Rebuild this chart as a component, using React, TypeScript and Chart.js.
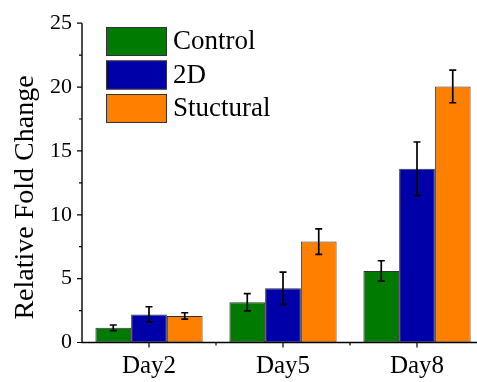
import React, { useEffect, useRef } from "react";
import { Chart, registerables } from "chart.js";

Chart.register(...registerables);

const categories = ["Day2", "Day5", "Day8"];
const seriesNames = ["Control", "2D", "Stuctural"];
const controlValues = [1.15, 3.15, 5.6];
const controlErrors = [0.22, 0.68, 0.8];
const twoDValues = [2.2, 4.25, 13.6];
const twoDErrors = [0.6, 1.26, 2.1];
const structuralValues = [2.08, 7.9, 20.05];
const structuralErrors = [0.25, 1.0, 1.28];
const yTicks = [0, 5, 10, 15, 20, 25];
const yMinorTicks = [2.5, 7.5, 12.5, 17.5, 22.5];
const yTitle = "Relative Fold Change";

const colors = ["#007A00", "#0000A8", "#FF8000"];
const errorsBySeries = [controlErrors, twoDErrors, structuralErrors];
const FONT = "'Liberation Serif', 'Times New Roman', serif";

const customPlugin = {
  id: "custom",
  afterDatasetsDraw(chart: any) {
    const ctx = chart.ctx;
    const y = chart.scales.y;
    ctx.save();
    ctx.strokeStyle = "#000";
    ctx.lineWidth = 1.7;
    chart.data.datasets.forEach((ds: any, i: number) => {
      const meta = chart.getDatasetMeta(i);
      const errs = errorsBySeries[i];
      meta.data.forEach((bar: any, j: number) => {
        const v = ds.data[j];
        const e = errs[j];
        const yt = y.getPixelForValue(v + e);
        const yb = y.getPixelForValue(v - e);
        const x = bar.x;
        ctx.beginPath();
        ctx.moveTo(x, yt);
        ctx.lineTo(x, yb);
        ctx.moveTo(x - 3.5, yt);
        ctx.lineTo(x + 3.5, yt);
        ctx.moveTo(x - 3.5, yb);
        ctx.lineTo(x + 3.5, yb);
        ctx.stroke();
      });
    });
    ctx.restore();
  },
  afterDraw(chart: any) {
    const ctx = chart.ctx;
    const area = chart.chartArea;
    const x = chart.scales.x;
    const y = chart.scales.y;
    ctx.save();
    ctx.strokeStyle = "#000";
    ctx.lineWidth = 1.4;
    ctx.beginPath();
    ctx.moveTo(area.left, area.top);
    ctx.lineTo(area.left, area.bottom);
    ctx.lineTo(area.right, area.bottom);
    ctx.stroke();
    ctx.lineWidth = 1.2;
    ctx.beginPath();
    yTicks.forEach((t) => {
      const py = y.getPixelForValue(t);
      ctx.moveTo(area.left, py);
      ctx.lineTo(area.left - 5, py);
    });
    yMinorTicks.forEach((t) => {
      const py = y.getPixelForValue(t);
      ctx.moveTo(area.left, py);
      ctx.lineTo(area.left - 3, py);
    });
    categories.forEach((_, i) => {
      const px = x.getPixelForValue(i);
      ctx.moveTo(px, area.bottom);
      ctx.lineTo(px, area.bottom + 5);
      if (i > 0) {
        const pb = (x.getPixelForValue(i - 1) + px) / 2;
        ctx.moveTo(pb, area.bottom);
        ctx.lineTo(pb, area.bottom + 3);
      }
    });
    ctx.stroke();

    ctx.save();
    ctx.translate(33, 197.5);
    ctx.rotate(-Math.PI / 2);
    ctx.fillStyle = "#000";
    ctx.font = `28px ${FONT}`;
    ctx.textAlign = "center";
    ctx.textBaseline = "alphabetic";
    ctx.fillText(yTitle, 0, 0);
    ctx.restore();

    const boxX = 106;
    const boxW = 61;
    const boxH = 29;
    const tops = [27, 60.5, 94];
    ctx.font = `27px ${FONT}`;
    ctx.textAlign = "left";
    ctx.textBaseline = "alphabetic";
    seriesNames.forEach((name, i) => {
      ctx.fillStyle = colors[i];
      ctx.fillRect(boxX, tops[i], boxW, boxH);
      ctx.strokeStyle = "#333";
      ctx.lineWidth = 1;
      ctx.strokeRect(boxX + 0.5, tops[i] + 0.5, boxW - 1, boxH - 1);
      ctx.fillStyle = "#000";
      ctx.fillText(name, 173, tops[i] + 22);
    });
    ctx.restore();
  },
};

export default function App() {
  const ref = useRef<HTMLCanvasElement | null>(null);
  useEffect(() => {
    if (!ref.current) return;
    const values = [controlValues, twoDValues, structuralValues];
    const chart = new Chart(ref.current, {
      type: "bar",
      data: {
        labels: categories,
        datasets: seriesNames.map((name, i) => ({
          label: name,
          data: values[i],
          backgroundColor: colors[i],
          borderColor: "#333",
          borderWidth: 1,
          borderSkipped: false,
          categoryPercentage: 0.8,
          barPercentage: 1.0,
        })),
      },
      options: {
        responsive: false,
        animation: false,
        devicePixelRatio: 1,
        layout: { padding: { top: 21.5, right: 6, left: 0, bottom: 0 } },
        plugins: { legend: { display: false }, tooltip: { enabled: false } },
        scales: {
          x: {
            type: "category",
            offset: true,
            grid: { display: false, drawTicks: false },
            border: { display: false },
            ticks: { color: "#000", font: { family: FONT, size: 25 }, padding: 9 },
            afterFit: (s: any) => {
              s.height = 39.5;
            },
          },
          y: {
            min: 0,
            max: 25,
            grid: { display: false, drawTicks: false },
            border: { display: false },
            ticks: { stepSize: 5, color: "#000", font: { family: FONT, size: 22 }, padding: 10 },
            afterFit: (s: any) => {
              s.width = 82;
            },
          },
        },
      },
      plugins: [customPlugin],
    });
    return () => chart.destroy();
  }, []);
  return (
    <div
      style={{
        position: "fixed",
        left: 0,
        top: 0,
        width: 477,
        height: 382,
        overflow: "hidden",
        background: "#fff",
      }}
    >
      <canvas ref={ref} width={490} height={382} style={{ display: "block" }} />
    </div>
  );
}
